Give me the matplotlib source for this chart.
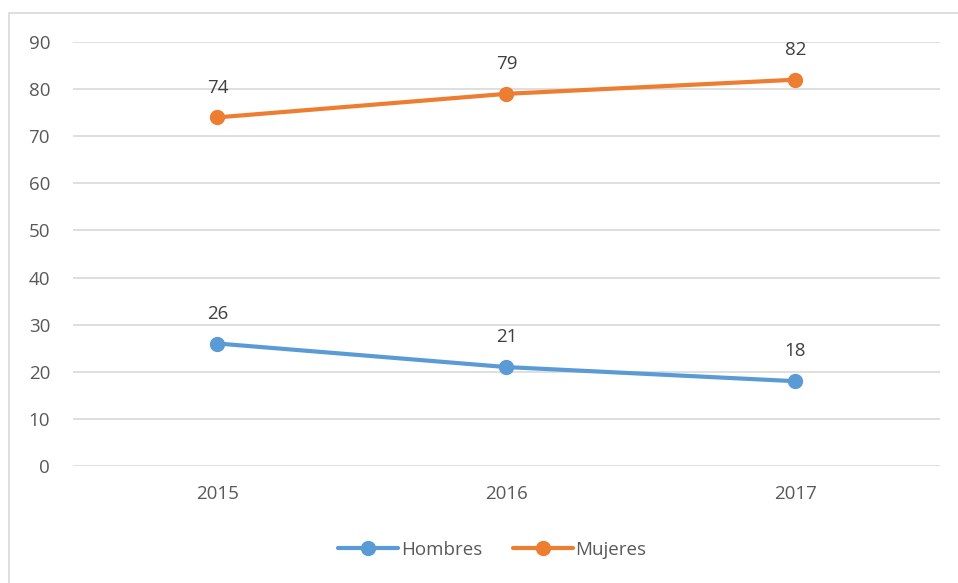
import matplotlib
matplotlib.use("Agg")
import matplotlib.pyplot as plt
from matplotlib.patches import Rectangle

years = ["2015", "2016", "2017"]
hombres = [26, 21, 18]
mujeres = [74, 79, 82]
yticks = [0, 10, 20, 30, 40, 50, 60, 70, 80, 90]

plt.rcParams['font.family'] = ['Open Sans', 'DejaVu Sans']
text_color = "#595959"
blue = "#5B9BD5"
orange = "#ED7D31"
fs = 13.5

fig = plt.figure(figsize=(9.58, 5.83), dpi=100)
fig.patches.append(Rectangle((9/958, -0.1), 1.5, 1 - 13/583 + 0.1, transform=fig.transFigure,
                             fill=False, edgecolor="#D9D9D9", linewidth=1.2))
ax = fig.add_axes([73/958, 1 - 466/583, (940 - 73)/958, (466 - 42)/583])

x = list(range(len(years)))
ax.plot(x, hombres, color=blue, linewidth=3, marker='o', markersize=10, label="Hombres",
        solid_capstyle='round', zorder=3)
ax.plot(x, mujeres, color=orange, linewidth=3, marker='o', markersize=10, label="Mujeres",
        solid_capstyle='round', zorder=3)

for xi, v in zip(x, hombres):
    ax.annotate(str(v), (xi, v), xytext=(0, 15), textcoords='offset points',
                ha='center', va='bottom', fontsize=fs, color="#404040")
for xi, v in zip(x, mujeres):
    ax.annotate(str(v), (xi, v), xytext=(0, 15), textcoords='offset points',
                ha='center', va='bottom', fontsize=fs, color="#404040")

ax.set_xlim(-0.5, 2.5)
ax.set_ylim(0, 90)
ax.set_yticks(yticks)
ax.set_xticks(x)
ax.set_xticklabels(years)
ax.grid(axis='y', color="#D9D9D9", linewidth=1.2)
ax.set_axisbelow(True)
for s in ax.spines.values():
    s.set_visible(False)
ax.tick_params(axis='both', length=0, labelsize=fs, labelcolor=text_color)
ax.tick_params(axis='y', pad=16.5)
ax.tick_params(axis='x', pad=14)

leg = fig.legend(loc='center', bbox_to_anchor=(0.514, 1 - 550/583), ncol=2, frameon=False,
                 fontsize=fs, handlelength=3.2, columnspacing=1.6, handletextpad=0.15)
for t in leg.get_texts():
    t.set_color(text_color)

fig.savefig("out.png", dpi=100)
